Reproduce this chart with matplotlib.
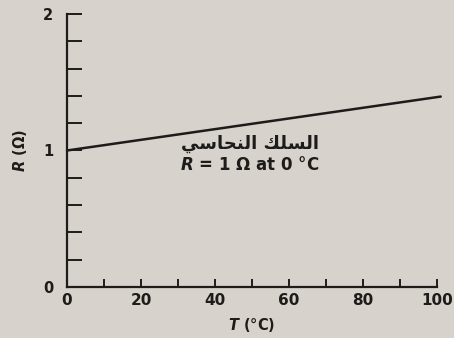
import numpy as np
import matplotlib
matplotlib.use('Agg')
import matplotlib.pyplot as plt

# Data
temp = [0, 101]             # T (°C)
resistance = [1.0, 1.395]   # R (Ohm)
x_labels = [0, 20, 40, 60, 80, 100]
y_labels = [0, 1, 2]
# "السلك النحاسي" written in presentation forms, visual order (matplotlib has no shaping)
label_ar = '\ufef2\ufeb3\ufe8e\ufea4\ufee8\ufedf\ufe8d \ufeda\ufee0\ufeb4\ufedf\ufe8d'
label_en = r'$\boldsymbol{R}$ = 1 Ω at 0 °C'

bg = '#d7d2cc'
ink = '#1e1c1a'

fig = plt.figure(figsize=(4.54, 3.38), dpi=100, facecolor=bg)
ax = fig.add_axes([0.1476, 0.1509, 0.815, 0.8077], facecolor=bg)

ax.plot(temp, resistance, color=ink, lw=1.8, solid_capstyle='round', clip_on=False)

ax.set_xlim(0, 100)
ax.set_ylim(0, 2)
for s in ('top', 'right'):
    ax.spines[s].set_visible(False)
for s in ('left', 'bottom'):
    ax.spines[s].set_color(ink)
    ax.spines[s].set_linewidth(1.6)

ax.set_xticks(x_labels)
ax.set_xticks(np.arange(10, 100, 20), minor=True)
ax.set_yticks(y_labels)
ax.set_yticks(np.arange(0.2, 2, 0.2), minor=True)
ax.set_xticklabels([str(v) for v in x_labels], fontsize=11, fontweight='bold', color=ink)
ax.set_yticklabels([str(v) for v in y_labels], fontsize=10.5, fontweight='bold', color=ink)
ax.tick_params(axis='x', which='both', direction='in', length=6, width=1.4, color=ink, pad=4)
ax.tick_params(axis='y', which='both', direction='in', length=11, width=1.4, color=ink, pad=10)

ax.set_xlabel(r'$\boldsymbol{T}$ (°C)', fontsize=10.5, fontweight='bold', color=ink, labelpad=6)
ax.set_ylabel(r'$\boldsymbol{R}$ (Ω)', fontsize=10.5, fontweight='bold', color=ink, labelpad=10)

ax.text(49.5, 0.985, label_ar, fontsize=13, fontweight='bold', color=ink,
        family=['DejaVu Sans'], ha='center', va='bottom')
ax.text(49.5, 0.96, label_en, fontsize=12, fontweight='bold', color=ink, ha='center', va='top')

fig.savefig('out.png', dpi=100, facecolor=bg)
